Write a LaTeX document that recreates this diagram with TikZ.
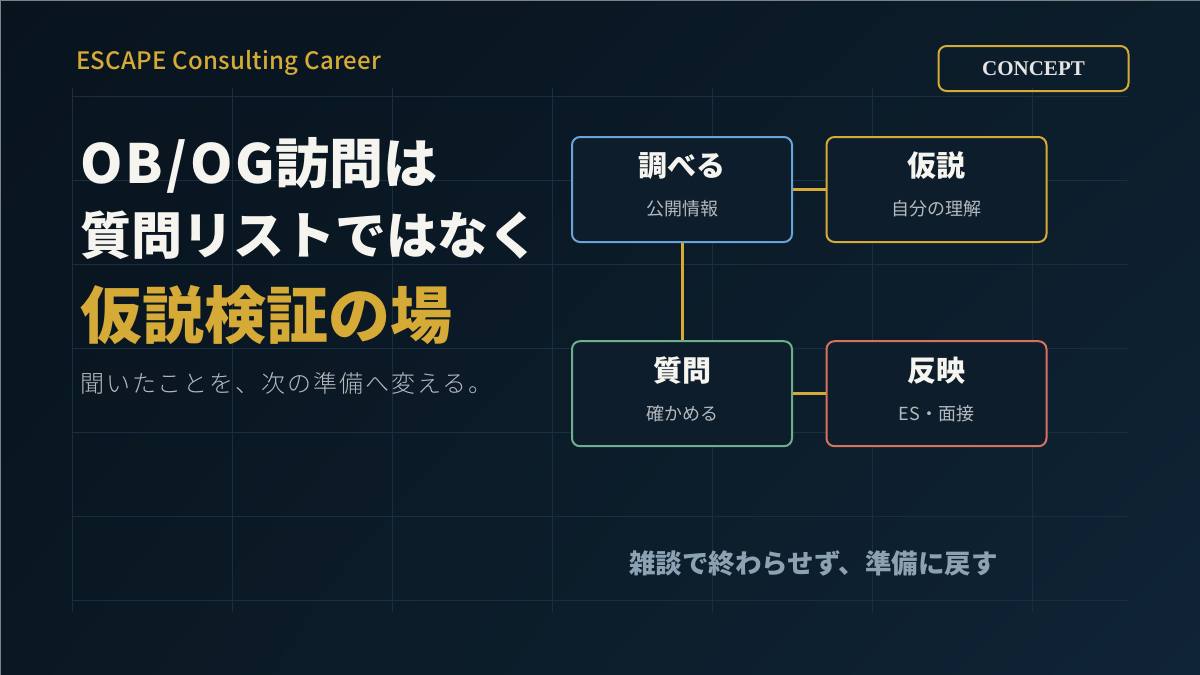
\documentclass[tikz,border=0pt]{standalone}
\usepackage{fontspec}
\setmainfont{Noto Sans CJK JP}
\newfontfamily\conceptfont{Liberation Serif}
\newfontfamily\medfont[LetterSpace=1]{Noto Sans CJK JP Medium}
\newfontfamily\lightfont[LetterSpace=8]{Noto Sans CJK JP Light}
\usetikzlibrary{calc,shadings}
\definecolor{bgA}{HTML}{08131D}
\definecolor{bgB}{HTML}{0F2436}
\definecolor{bgC}{HTML}{0C1D2B}
\definecolor{bgD}{HTML}{0A1822}
\definecolor{gridc}{HTML}{1A2E42}
\definecolor{gold}{HTML}{D6AA36}
\definecolor{whitec}{HTML}{F6F4EF}
\definecolor{subc}{HTML}{B4B9BE}
\definecolor{bottomc}{HTML}{8CA2B2}
\definecolor{bluec}{HTML}{6AA3D8}
\definecolor{greenc}{HTML}{6FAE8C}
\definecolor{redc}{HTML}{D8705F}
\definecolor{boxfill}{HTML}{0D1D2B}
\definecolor{conceptc}{HTML}{E4E4E4}
\definecolor{edgec}{HTML}{7C828A}
\tikzset{
  gridline/.style={draw=gridc, line width=1pt},
  stepbox/.style={draw=#1, fill=boxfill, line width=2pt, rounded corners=8pt,
    minimum width=220pt, minimum height=105pt, inner sep=0pt},
  boxtitle/.style={text=whitec, font=\fontsize{29}{32}\selectfont\bfseries, inner sep=0pt, anchor=center},
  boxsub/.style={text=subc, font=\fontsize{18}{22}\selectfont, inner sep=0pt, anchor=center},
  link/.style={draw=gold, line width=3pt},
  lefttext/.style={inner sep=0pt, anchor=west},
}
\begin{document}
\begin{tikzpicture}[x=1pt,y=-1pt]
\useasboundingbox (0,0) rectangle (1200,675);
\shade[upper left=bgA, upper right=bgC, lower left=bgD, lower right=bgB] (0,0) rectangle (1200,675);
\draw[edgec, line width=1pt] (0.5,675) -- (0.5,0.5) -- (1200,0.5);
% grid
\foreach \x in {72,232,392,552,712,872,1032} \draw[gridline] (\x,88) -- (\x,612);
\foreach \y in {96,180,264,348,432,516,600} \draw[gridline] (72,\y) -- (1128,\y);
% header
\node[lefttext, text=gold, font=\medfont\fontsize{24}{28}\selectfont] (brand) at (76,63) {ESCAPE Consulting Career};
\node[draw=gold, line width=2pt, rounded corners=8pt, minimum width=190pt, minimum height=45pt, inner sep=0pt,
      text=conceptc, font=\conceptfont\bfseries\fontsize{21}{24}\selectfont] (concept) at (1033.5,68.5) {CONCEPT};
% title
\node[lefttext, text=whitec, font=\fontsize{54}{60}\selectfont\bfseries] (t1) at (80,165.5) {{\addfontfeatures{LetterSpace=6}OB/OG}訪問は};
\node[lefttext, text=whitec, font=\fontsize{51}{56}\selectfont\bfseries] (t2) at (80,235) {質問リストではなく};
\node[lefttext, text=gold, font=\fontsize{62}{66}\selectfont\bfseries] (t3) at (80,315) {仮説検証の場};
\node[lefttext, text=subc, font=\lightfont\fontsize{24}{28}\selectfont] (t4) at (80,383.5) {聞いたことを、次の準備へ変える。};
% boxes
\node[stepbox=bluec] (b1) at (682,189.5) {};
\node[stepbox=gold] (b2) at (936.5,189.5) {};
\node[stepbox=greenc] (b3) at (682,393.7) {};
\node[stepbox=redc] (b4) at (936.5,393.7) {};
\draw[link] (b1.east) -- (b2.west);
\draw[link] (b1.south) -- (b3.north);
\draw[link] (b3.east) -- (b4.west);
\node[boxtitle] (b1t) at ($(b1.center)+(0,-23.5)$) {調べる};
\node[boxsub] (b1s) at ($(b1.center)+(0,19.5)$) {公開情報};
\node[boxtitle] (b2t) at ($(b2.center)+(0,-23.5)$) {仮説};
\node[boxsub] (b2s) at ($(b2.center)+(0,19.5)$) {自分の理解};
\node[boxtitle] (b3t) at ($(b3.center)+(0,-23.5)$) {質問};
\node[boxsub] (b3s) at ($(b3.center)+(0,19.5)$) {確かめる};
\node[boxtitle] (b4t) at ($(b4.center)+(0,-23.5)$) {反映};
\node[boxsub] (b4s) at ($(b4.center)+(0,19.5)$) {ES・面接};
% bottom
\node[lefttext, text=bottomc, font=\fontsize{26.5}{30}\selectfont\bfseries] (note) at (629,563.3) {雑談で終わらせず、準備に戻す};
\end{tikzpicture}
\end{document}
